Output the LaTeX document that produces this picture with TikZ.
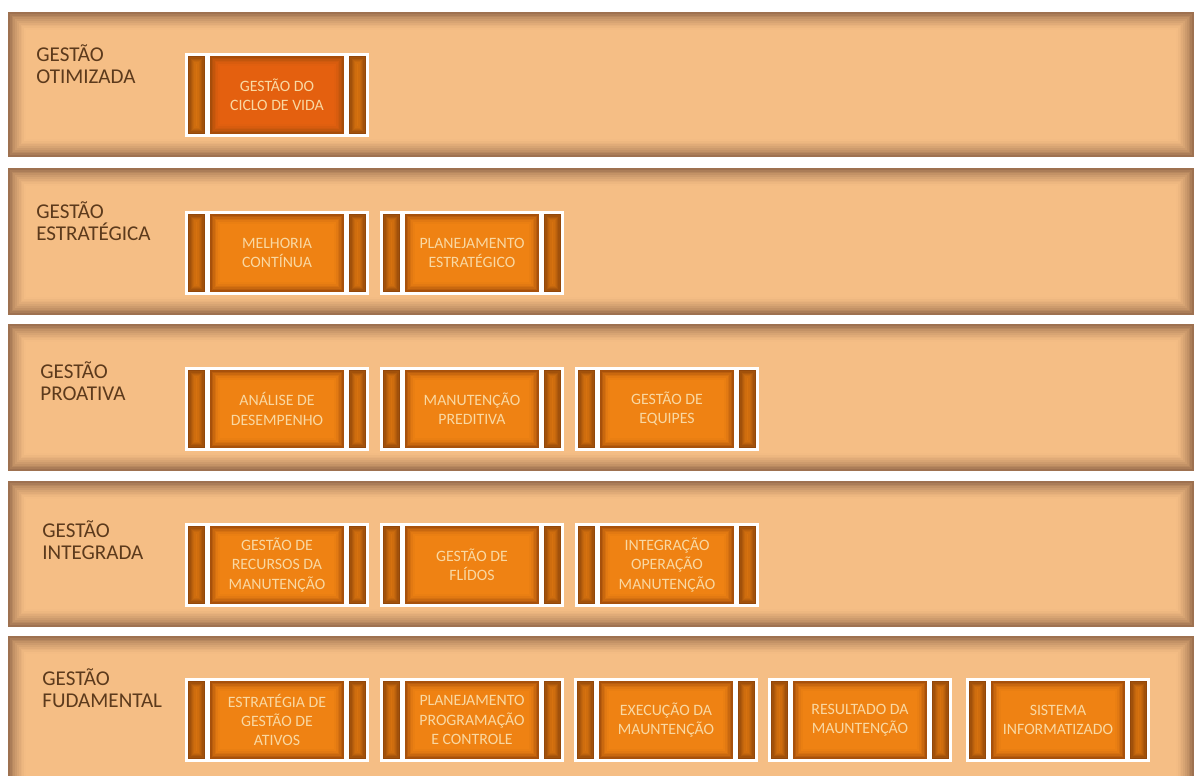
\documentclass[tikz,border=0pt]{standalone}
\usepackage{fontspec}
\setmainfont{Carlito}
\usetikzlibrary{calc}
\definecolor{bandBase}{HTML}{F5BE85}
\definecolor{bandEsc}{HTML}{94694A}
\definecolor{boxLaranja}{HTML}{EF8213}
\definecolor{boxVermelho}{HTML}{E4600F}
\definecolor{boxEsc}{HTML}{A04B0A}
\definecolor{stripClaro}{HTML}{D9740F}
\definecolor{stripEsc}{HTML}{8A420A}
\definecolor{txtBox}{HTML}{F9D8A2}
\definecolor{lblCor}{HTML}{5C3A1C}

% rectangle with an inner shadow: x1,y1,x2,y2,base,dark,steps,step width
\newcommand{\sombra}[8]{%
  \fill[#5] (#1,#2) rectangle (#3,#4);
  \foreach \k in {0,...,#7}{
    \pgfmathtruncatemacro\pct{90*(1-\k/(#7+1))^1.5}
    \pgfmathsetmacro\dd{(\k+0.5)*#8}
    \draw[#6!\pct!#5, line width=#8*0.6pt] ({#1+\dd},{#2+\dd}) rectangle ({#3-\dd},{#4-\dd});
  }
}
% one box: name, x, y (top left), main colour, text
\newcommand{\bloco}[5]{%
  \fill[white] (#2,#3) rectangle ++(184,84);
  \sombra{#2+3}{#3+3}{#2+20}{#3+81}{stripClaro}{stripEsc}{6}{1.3}
  \sombra{#2+25}{#3+3}{#2+159}{#3+81}{#4}{boxEsc}{5}{1.6}
  \sombra{#2+164}{#3+3}{#2+181}{#3+81}{stripClaro}{stripEsc}{6}{1.3}
  \node[boxtxt] (#1) at ({#2+92},{#3+42}) {#5};
}

\begin{document}
\begin{tikzpicture}[x=0.02cm, y=-0.02cm,
    boxtxt/.style={align=center, inner sep=0pt, text=txtBox,
                   font=\fontsize{9}{11}\selectfont},
    lbl/.style={anchor=north west, align=left, inner sep=0pt, text=lblCor,
                font=\fontsize{12}{12.5}\selectfont}]
  \useasboundingbox (0,0) rectangle (1198,776);
  \fill[white] (0,0) rectangle (1198,776);

  % bands
  \foreach \t/\b in {12/157, 168/315, 324/471, 481/627, 636/800}{
    \sombra{8}{\t}{1194}{\b}{bandBase}{bandEsc}{9}{1.8}
  }

  % labels
  \node[lbl] (otim)  at (36,44)  {GESTÃO\\OTIMIZADA};
  \node[lbl] (estr)  at (36,201) {GESTÃO\\ESTRATÉGICA};
  \node[lbl] (proa)  at (40,361) {GESTÃO\\PROATIVA};
  \node[lbl] (integ) at (42,520) {GESTÃO\\INTEGRADA};
  \node[lbl] (fund)  at (42,668) {GESTÃO\\FUDAMENTAL};

  % row 1
  \bloco{gcv}{185}{53}{boxVermelho}{GESTÃO DO\\CICLO DE VIDA}
  % row 2
  \bloco{mc}{185}{211}{boxLaranja}{MELHORIA\\CONTÍNUA}
  \bloco{pe}{380}{211}{boxLaranja}{PLANEJAMENTO\\ESTRATÉGICO}
  % row 3
  \bloco{ad}{185}{367}{boxLaranja}{ANÁLISE DE\\DESEMPENHO}
  \bloco{mp}{380}{367}{boxLaranja}{MANUTENÇÃO\\PREDITIVA}
  \bloco{ge}{575}{367}{boxLaranja}{GESTÃO DE\\EQUIPES}
  % row 4
  \bloco{grm}{185}{523}{boxLaranja}{GESTÃO DE\\RECURSOS DA\\MANUTENÇÃO}
  \bloco{gf}{380}{523}{boxLaranja}{GESTÃO DE\\FLÍDOS}
  \bloco{iom}{575}{523}{boxLaranja}{INTEGRAÇÃO\\OPERAÇÃO\\MANUTENÇÃO}
  % row 5
  \bloco{ega}{185}{678}{boxLaranja}{ESTRATÉGIA DE\\GESTÃO DE\\ATIVOS}
  \bloco{ppc}{380}{678}{boxLaranja}{PLANEJAMENTO\\PROGRAMAÇÃO\\E CONTROLE}
  \bloco{em}{574}{678}{boxLaranja}{EXECUÇÃO DA\\MAUNTENÇÃO}
  \bloco{rm}{768}{678}{boxLaranja}{RESULTADO DA\\MAUNTENÇÃO}
  \bloco{si}{966}{678}{boxLaranja}{SISTEMA\\INFORMATIZADO}
\end{tikzpicture}
\end{document}
